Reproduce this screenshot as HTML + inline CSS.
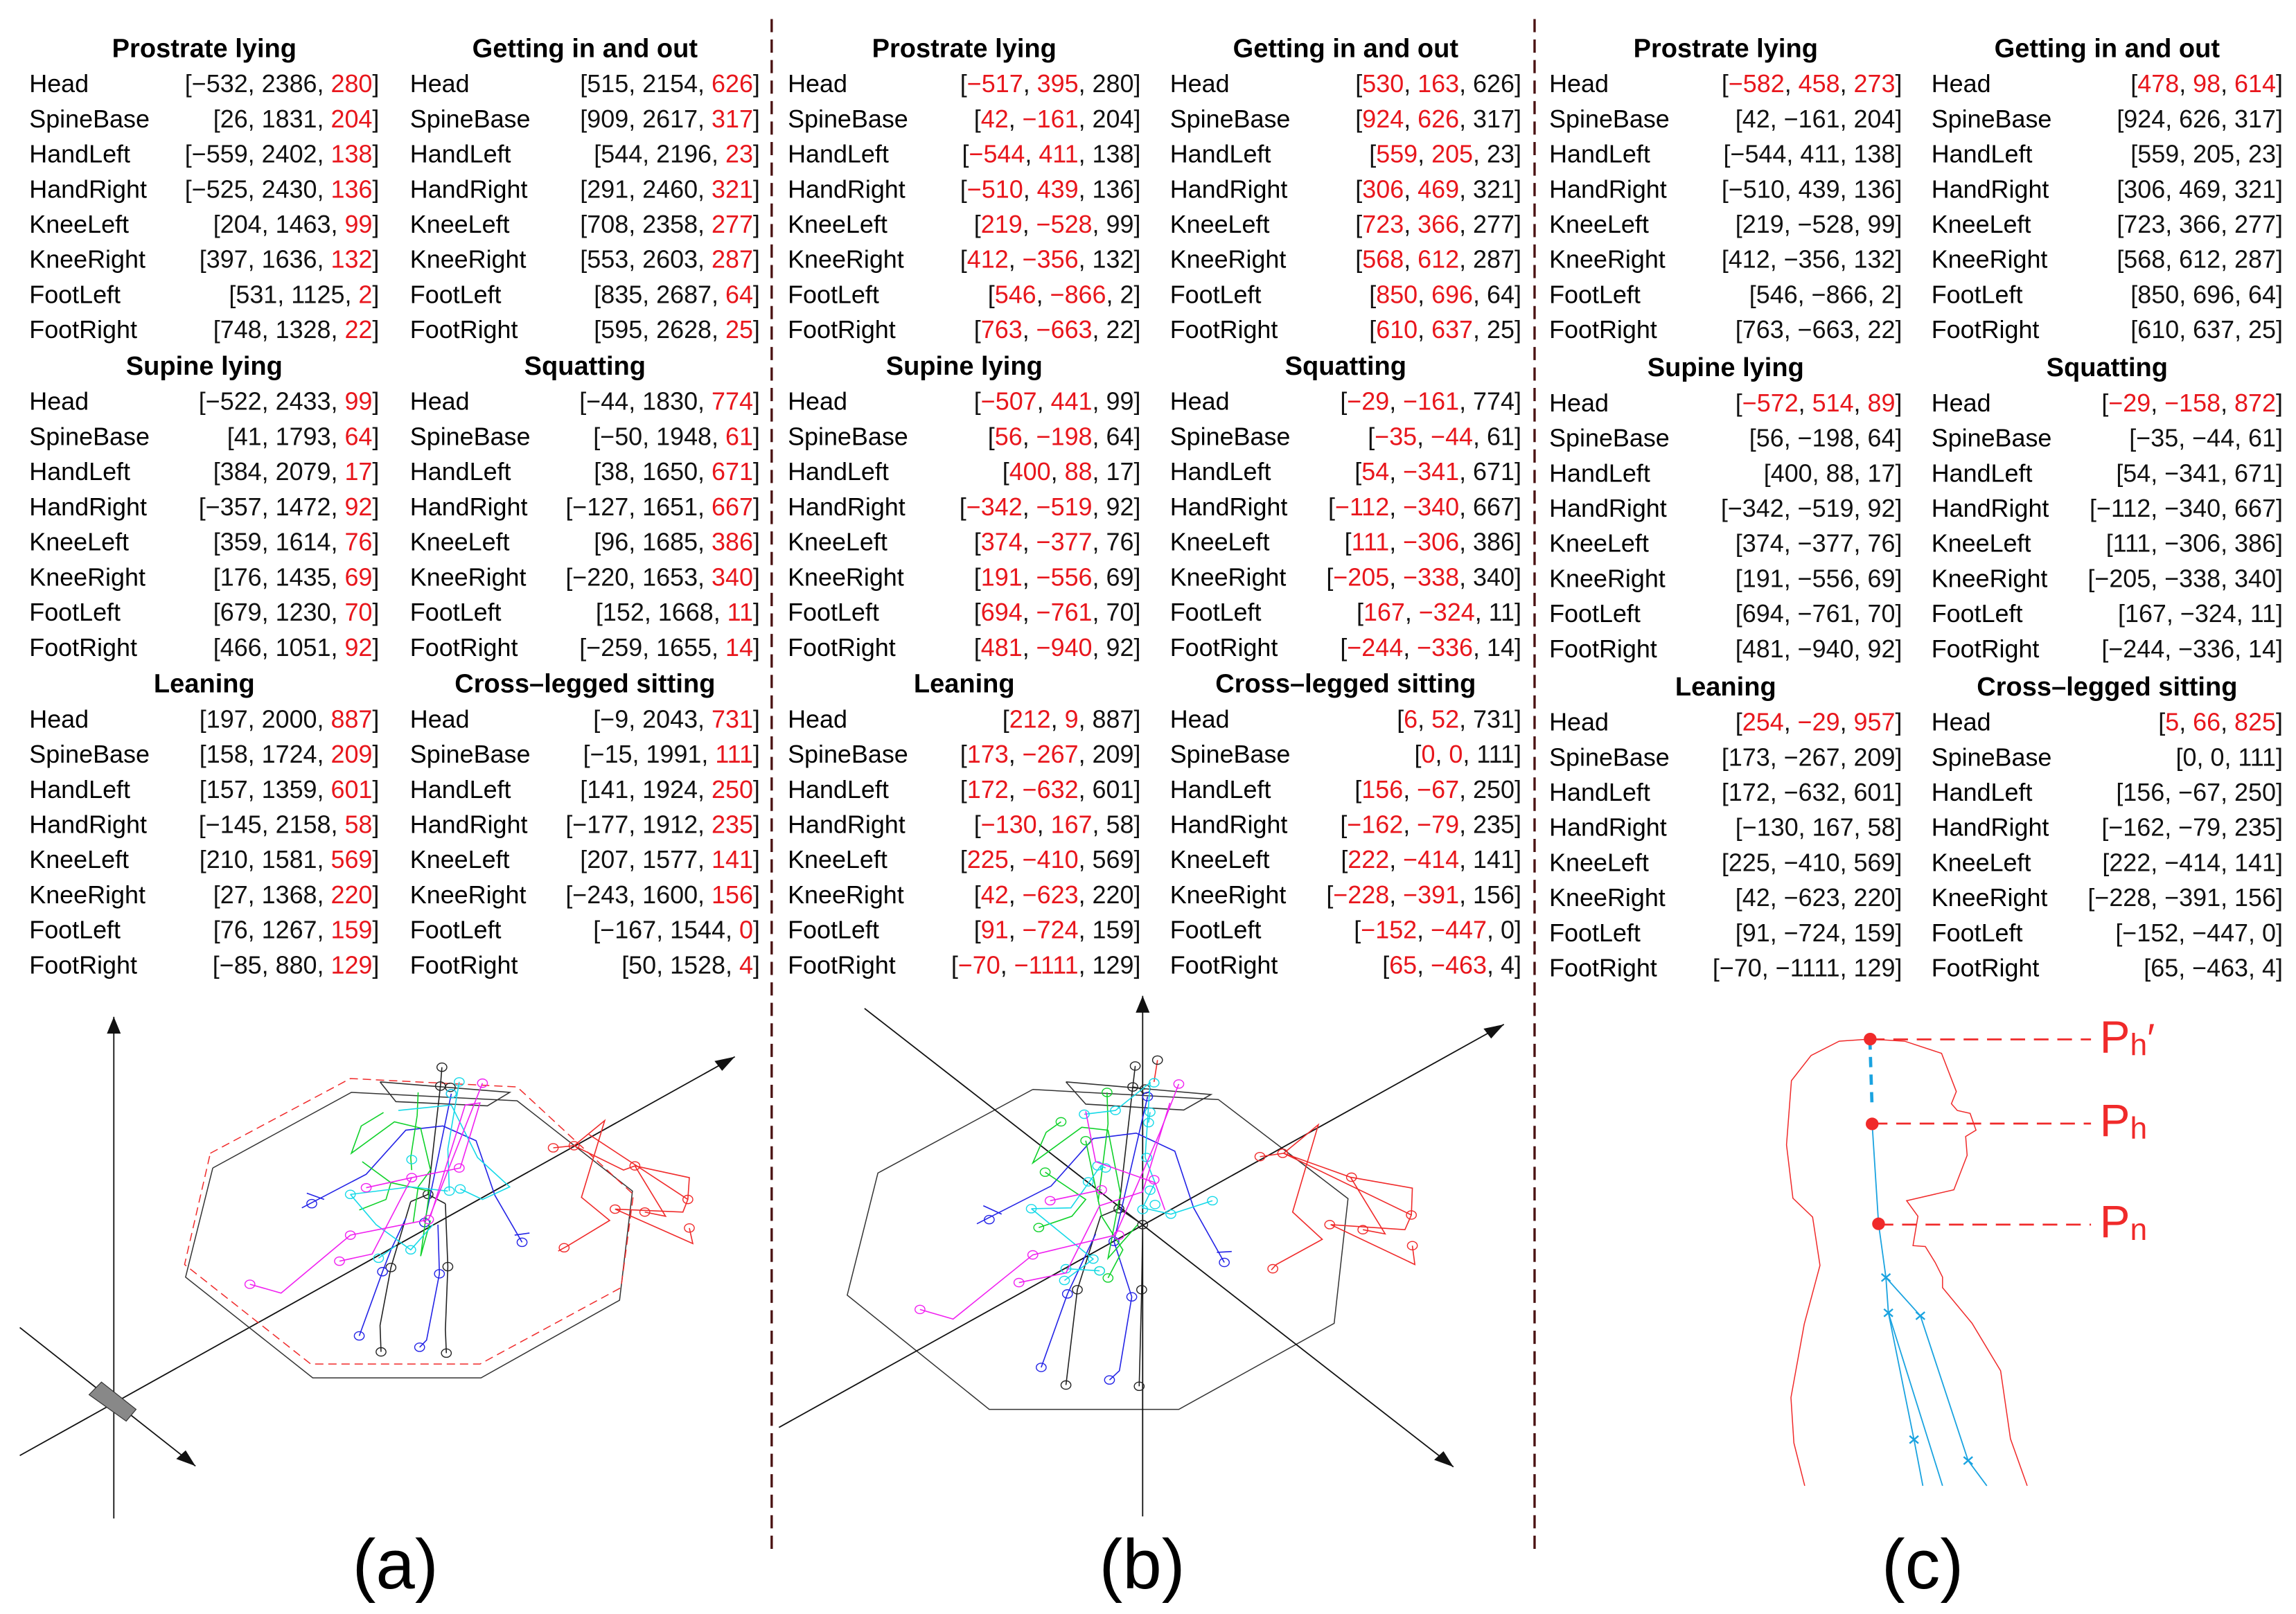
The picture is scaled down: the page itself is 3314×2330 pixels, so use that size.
<!DOCTYPE html>
<html><head><meta charset="utf-8"><style>
html,body{margin:0;padding:0;background:#fff;}
svg{display:block;}
text{font-family:"Liberation Sans",sans-serif;}
</style></head><body>
<svg id="fig" xmlns="http://www.w3.org/2000/svg" width="3314" height="2330" viewBox="0 0 1568 1102.5" preserveAspectRatio="none">
<rect width="1568" height="1102.5" fill="#fff"/>
<line x1="527" y1="13" x2="527" y2="1060" stroke="#4a1212" stroke-width="1.6" stroke-dasharray="9,5"/>
<line x1="1048" y1="13" x2="1048" y2="1060" stroke="#4a1212" stroke-width="1.6" stroke-dasharray="9,5"/>
<g id="tables"></g>
<g id="pa" transform="translate(0,653) scale(0.33795,0.28678)"></g>
<g id="pb" transform="translate(525.2,653) scale(0.33795,0.28678)"></g>
<line x1="1277" y1="710" x2="1428" y2="710" stroke="#f02a2a" stroke-width="1.3" stroke-dasharray="10,6"/>
<line x1="1279" y1="767.5" x2="1428" y2="767.5" stroke="#f02a2a" stroke-width="1.3" stroke-dasharray="10,6"/>
<line x1="1283" y1="836.5" x2="1428" y2="836.5" stroke="#f02a2a" stroke-width="1.3" stroke-dasharray="10,6"/>
<line x1="1277" y1="710" x2="1278.5" y2="757" stroke="#1aa3e0" stroke-width="2.2" stroke-dasharray="7,5"/>
<g id="pc" transform="translate(1040.9,653) scale(0.33613,0.28678)"></g>
<text x="270" y="1085" font-size="48" text-anchor="middle">(a)</text>
<text x="780" y="1085" font-size="48" text-anchor="middle">(b)</text>
<text x="1313" y="1085" font-size="48" text-anchor="middle">(c)</text>
</svg>
<script>
const NS="http://www.w3.org/2000/svg";
const joints=["Head","SpineBase","HandLeft","HandRight","KneeLeft","KneeRight","FootLeft","FootRight"];
const poses=["Prostrate lying","Getting in and out","Supine lying","Squatting","Leaning","Cross\u2013legged sitting"];
const aProstrate=[[-532,2386,280],[26,1831,204],[-559,2402,138],[-525,2430,136],[204,1463,99],[397,1636,132],[531,1125,2],[748,1328,22]];
const aGetting=[[515,2154,626],[909,2617,317],[544,2196,23],[291,2460,321],[708,2358,277],[553,2603,287],[835,2687,64],[595,2628,25]];
const aSupine=[[-522,2433,99],[41,1793,64],[384,2079,17],[-357,1472,92],[359,1614,76],[176,1435,69],[679,1230,70],[466,1051,92]];
const aSquat=[[-44,1830,774],[-50,1948,61],[38,1650,671],[-127,1651,667],[96,1685,386],[-220,1653,340],[152,1668,11],[-259,1655,14]];
const aLean=[[197,2000,887],[158,1724,209],[157,1359,601],[-145,2158,58],[210,1581,569],[27,1368,220],[76,1267,159],[-85,880,129]];
const aCross=[[-9,2043,731],[-15,1991,111],[141,1924,250],[-177,1912,235],[207,1577,141],[-243,1600,156],[-167,1544,0],[50,1528,4]];
const bProstrate=[[-517,395,280],[42,-161,204],[-544,411,138],[-510,439,136],[219,-528,99],[412,-356,132],[546,-866,2],[763,-663,22]];
const bGetting=[[530,163,626],[924,626,317],[559,205,23],[306,469,321],[723,366,277],[568,612,287],[850,696,64],[610,637,25]];
const bSupine=[[-507,441,99],[56,-198,64],[400,88,17],[-342,-519,92],[374,-377,76],[191,-556,69],[694,-761,70],[481,-940,92]];
const bSquat=[[-29,-161,774],[-35,-44,61],[54,-341,671],[-112,-340,667],[111,-306,386],[-205,-338,340],[167,-324,11],[-244,-336,14]];
const bLean=[[212,9,887],[173,-267,209],[172,-632,601],[-130,167,58],[225,-410,569],[42,-623,220],[91,-724,159],[-70,-1111,129]];
const bCross=[[6,52,731],[0,0,111],[156,-67,250],[-162,-79,235],[222,-414,141],[-228,-391,156],[-152,-447,0],[65,-463,4]];
const cHeads=[[-582,458,273],[478,98,614],[-572,514,89],[-29,-158,872],[254,-29,957],[5,66,825]];

const tg=document.getElementById('tables');
function fmt(n){return n<0?'\u2212'+(-n):String(n);}
function table(panel,pi,data,lx,rx,top,redFn){
  const g=document.createElementNS(NS,'g');
  
  
  const t=document.createElementNS(NS,'text');
  
  
  t.setAttribute('x',(lx+rx)/2);t.setAttribute('y',top+6);t.setAttribute('font-size','18');
  t.setAttribute('font-weight','bold');t.setAttribute('text-anchor','middle');t.textContent=poses[pi];
  g.appendChild(t);
  data.forEach((v,i)=>{
    const y=top+30+24*i;
    const l=document.createElementNS(NS,'text');
    
    
    l.setAttribute('x',lx);l.setAttribute('y',y);l.setAttribute('font-size','17');l.textContent=joints[i];
    g.appendChild(l);
    const r=document.createElementNS(NS,'text');
    
    
    r.setAttribute('x',rx);r.setAttribute('y',y);r.setAttribute('font-size','17');r.setAttribute('text-anchor','end');
    const parts=[['[',0]];
    v.forEach((n,k)=>{parts.push([fmt(n),redFn(i,k)?1:0]);if(k<2)parts.push([', ',0]);});
    parts.push([']',0]);
    parts.forEach(p=>{const s=document.createElementNS(NS,'tspan');s.setAttribute('fill',p[1]?'#e8161c':'#111');s.textContent=p[0];r.appendChild(s);});
    g.appendChild(r);
  });
  tg.appendChild(g);
}
const aSets=[aProstrate,aGetting,aSupine,aSquat,aLean,aCross];
const bSets=[bProstrate,bGetting,bSupine,bSquat,bLean,bCross];
const tops=[33,250,467];
for(let s=0;s<6;s++){
  const row=Math.floor(s/2),col=s%2,top=tops[row];
  table('a',s,aSets[s],col?280:20,col?519:259,top,(i,k)=>k===2);
  table('b',s,bSets[s],col?799:538,col?1039:779,top,(i,k)=>k<2);
  const cd=bSets[s].map((v,i)=>i===0?cHeads[s]:v);
  table('c',s,cd,col?1319:1058,col?1559:1299,top+row,(i,k)=>i===0);
}

function el(parent,tag,attrs,name){
  const e=document.createElementNS(NS,tag);
  for(const k in attrs)e.setAttribute(k,attrs[k]);
  e.setAttribute('vector-effect','non-scaling-stroke');
  
  
  parent.appendChild(e);return e;
}
function pl(parent,pts,color,name,w,dash){
  const a={points:pts.map(p=>p.join(',')).join(' '),fill:'none',stroke:color,'stroke-width':w||1.6};
  if(dash)a['stroke-dasharray']=dash;
  return el(parent,'polyline',a,name);
}
function arrow(parent,x1,y1,x2,y2,name){
  el(parent,'line',{x1,y1,x2,y2,stroke:'#111','stroke-width':1.8},name);
  const dx=x2-x1,dy=y2-y1,L=Math.hypot(dx,dy),ux=dx/L,uy=dy/L,h=40,w=14;
  const bx=x2-ux*h,by=y2-uy*h;
  el(parent,'polygon',{points:`${x2},${y2} ${bx-uy*w},${by+ux*w} ${bx+uy*w},${by-ux*w}`,fill:'#111'},name+'-head');
}
function joint(parent,pts,color){
  pts.forEach(p=>el(parent,'circle',{cx:p[0],cy:p[1],r:10,fill:'none',stroke:color,'stroke-width':1.4},'joint-marker'));
}
const BL='#222',BU='#2323e6',GR='#0fd12a',CY='#15d9e8',MG='#f020f0',RD='#f02a2a';

/* panel a */
const pa=document.getElementById('pa');
arrow(pa,230,1340,230,145,'vertical-axis-a');
arrow(pa,40,1190,1485,240,'depth-axis-a');
arrow(pa,40,885,395,1215,'lateral-axis-a');
pl(pa,[[430,505],[710,325],[1045,345],[1278,560],[1252,820],[972,1005],[632,1005],[375,765],[430,505]],'#333','bed-outline-a',1.5);
pl(pa,[[425,470],[708,292],[1045,312],[1280,568],[1255,790],[970,972],[628,972],[373,735],[425,470]],RD,'bed-outline-dashed-a',1.5,'12,7');
el(pa,'polygon',{points:'180,1045 205,1015 275,1080 255,1108',fill:'#888',stroke:'#333','stroke-width':1.2},'kinect-sensor');
pl(pa,[[768,300],[1030,325],[985,357],[800,347],[768,300]],'#333','bed-top-a');
pl(pa,[[893,265],[890,310],[865,568]],BL,'skeleton-black');pl(pa,[[830,585],[865,568],[900,590]],BL,'skeleton-black');
pl(pa,[[830,585],[790,742],[768,880],[770,943]],BL,'skeleton-black');pl(pa,[[900,590],[905,740],[900,890],[902,946]],BL,'skeleton-black');
joint(pa,[[893,265],[890,310],[910,313],[865,568],[790,742],[770,943],[905,740],[902,946]],BL);
pl(pa,[[610,600],[740,520],[820,415],[895,405],[962,440],[1000,570],[1055,682]],BU,'skeleton-blue');
pl(pa,[[620,565],[655,580]],BU,'skeleton-blue');pl(pa,[[1040,665],[1070,660]],BU,'skeleton-blue');
pl(pa,[[912,328],[858,635]],BU,'skeleton-blue');pl(pa,[[820,625],[790,700],[773,752],[726,905]],BU,'skeleton-blue');
pl(pa,[[885,640],[888,757],[862,915],[848,932]],BU,'skeleton-blue');
joint(pa,[[630,590],[1055,682],[912,328],[773,752],[726,905],[888,757],[848,932],[858,635]],BU);
pl(pa,[[775,373],[730,405],[710,470],[797,395],[850,410],[870,510],[845,550],[835,635]],GR,'skeleton-green');
pl(pa,[[845,325],[843,380],[830,480],[832,510]],GR,'skeleton-green');
pl(pa,[[732,490],[790,540],[780,580],[726,605]],GR,'skeleton-green');
pl(pa,[[790,540],[868,560],[850,715],[870,630]],GR,'skeleton-green');
pl(pa,[[805,368],[912,355],[965,480],[1030,550],[975,580],[930,555]],CY,'skeleton-cyan');
pl(pa,[[928,300],[905,460],[908,560]],CY,'skeleton-cyan');
pl(pa,[[708,568],[830,550],[905,560]],CY,'skeleton-cyan');
pl(pa,[[708,568],[760,640],[830,700],[875,640]],CY,'skeleton-cyan');pl(pa,[[765,720],[800,690]],CY,'skeleton-cyan');
joint(pa,[[928,300],[912,328],[832,485],[708,568],[908,560],[930,555],[830,700],[765,720]],CY);
pl(pa,[[505,782],[568,803],[708,665],[866,628],[975,303]],MG,'skeleton-magenta');
pl(pa,[[686,727],[752,710],[832,528],[930,505],[970,350],[940,355]],MG,'skeleton-magenta');
pl(pa,[[740,552],[832,528]],MG,'skeleton-magenta');pl(pa,[[940,355],[870,620]],MG,'skeleton-magenta');
joint(pa,[[505,782],[708,665],[686,727],[740,552],[832,528],[928,505],[975,303],[866,628]],MG);
pl(pa,[[1118,457],[1160,452],[1222,392],[1175,575],[1232,630],[1148,690],[1128,703]],RD,'skeleton-red');
pl(pa,[[1160,452],[1260,510],[1283,500],[1393,528],[1390,580],[1380,610],[1243,603],[1400,685],[1393,648]],RD,'skeleton-red');
pl(pa,[[1190,425],[1390,580]],RD,'skeleton-red');pl(pa,[[1283,500],[1345,620],[1303,610]],RD,'skeleton-red');
joint(pa,[[1118,457],[1160,452],[1140,695],[1283,500],[1390,580],[1243,603],[1303,610],[1393,648]],RD);

/* panel b */
const pb=document.getElementById('pb');
pl(pb,[[533,318],[908,342],[1170,578],[1142,875],[828,1080],[445,1080],[158,808],[220,517],[533,318]],'#333','bed-outline-b',1.5);
arrow(pb,755,1335,755,95,'vertical-axis-b');
arrow(pb,20,1123,1485,163,'depth-axis-b');
arrow(pb,193,125,1383,1217,'lateral-axis-b');
pl(pb,[[600,300],[893,330],[838,367],[640,353],[600,300]],'#333','bed-top-b');
pl(pb,[[740,262],[735,312],[707,602],[670,620],[623,795],[600,1022]],BL,'skeleton-black');
pl(pb,[[707,602],[755,640],[753,795],[748,1025]],BL,'skeleton-black');pl(pb,[[735,312],[760,317]],BL,'skeleton-black');
joint(pb,[[740,262],[735,312],[760,317],[707,602],[755,640],[623,795],[600,1022],[753,795],[748,1025]],BL);
pl(pb,[[785,248],[778,300]],RD,'skeleton-red');joint(pb,[[785,248]],BL);
pl(pb,[[420,638],[570,548],[655,435],[742,422],[820,465],[858,600],[920,730]],BU,'skeleton-blue');
pl(pb,[[433,595],[470,615]],BU,'skeleton-blue');pl(pb,[[905,706],[935,704]],BU,'skeleton-blue');
pl(pb,[[765,335],[697,680]],BU,'skeleton-blue');pl(pb,[[660,662],[603,805],[550,980]],BU,'skeleton-blue');
pl(pb,[[697,680],[733,812],[708,988],[688,1010]],BU,'skeleton-blue');
joint(pb,[[445,628],[920,730],[765,335],[697,680],[603,805],[550,980],[733,812],[688,1010]],BU);
pl(pb,[[590,395],[560,420],[533,493],[632,408],[685,415],[710,565],[685,720],[745,640]],GR,'skeleton-green');
pl(pb,[[683,325],[685,400],[665,585]],GR,'skeleton-green');
pl(pb,[[558,515],[640,580],[612,620],[545,647]],GR,'skeleton-green');
pl(pb,[[640,440],[672,620],[715,700],[685,767]],GR,'skeleton-green');
joint(pb,[[590,395],[683,325],[640,440],[558,515],[545,647],[685,767],[668,750]],GR);
pl(pb,[[637,377],[700,368],[770,302],[760,480],[780,540],[755,600],[812,615],[896,583]],CY,'skeleton-cyan');
pl(pb,[[530,602],[610,600],[670,500],[680,505]],CY,'skeleton-cyan');
pl(pb,[[530,602],[655,722],[597,773]],CY,'skeleton-cyan');pl(pb,[[600,745],[668,750]],CY,'skeleton-cyan');
pl(pb,[[770,372],[767,397]],CY,'skeleton-cyan');
joint(pb,[[637,377],[700,368],[778,302],[770,372],[767,397],[763,480],[770,558],[780,592],[755,604],[812,615],[896,583],[530,602],[664,500],[680,505],[655,722],[600,745],[597,773],[668,750],[645,538]],CY);
pl(pb,[[305,842],[372,865],[533,712],[700,665],[790,420],[828,305]],MG,'skeleton-magenta');
pl(pb,[[505,778],[600,755],[668,595],[755,562],[810,350]],MG,'skeleton-magenta');
pl(pb,[[568,583],[672,557]],MG,'skeleton-magenta');
pl(pb,[[640,370],[660,490],[780,540],[800,605]],MG,'skeleton-magenta');
joint(pb,[[305,842],[533,712],[505,778],[568,583],[672,557],[828,305],[778,533],[707,665]],MG);
pl(pb,[[992,478],[1040,470],[1110,402],[1058,610],[1118,675],[1025,735],[1015,748]],RD,'skeleton-red');
pl(pb,[[1040,470],[1175,527],[1300,553],[1298,617],[1285,652],[1135,640],[1305,735],[1300,690]],RD,'skeleton-red');
pl(pb,[[1040,470],[1298,617]],RD,'skeleton-red');pl(pb,[[1175,527],[1245,662],[1200,652]],RD,'skeleton-red');
joint(pb,[[992,478],[1038,470],[1018,745],[1177,527],[1298,617],[1133,640],[1200,652],[1300,690]],RD);

/* panel c */
const pc=document.getElementById('pc');
pl(pc,[[570,1262],[548,1160],[542,1052],[569,877],[601,737],[586,622],[546,577],[533,450],[543,297],[583,237],[640,203],[703,198],[773,203],[848,232],[878,323],[868,352],[880,368],[906,375],[918,415],[897,430],[900,475],[873,557],[777,583],[800,620],[790,690],[815,692],[835,730],[850,765],[850,790],[910,875],[968,988],[988,1150],[1022,1262]],RD,'head-outline',1.5);
pl(pc,[[707,400],[720,638],[735,766],[740,850],[792,1152],[810,1262]],'#1aa3e0','spine-line',1.8);
pl(pc,[[735,766],[805,857],[902,1202],[940,1262]],'#1aa3e0','shoulder-line',1.8);
pl(pc,[[740,850],[850,1262]],'#1aa3e0','arm-line',1.8);
[[735,766],[740,850],[805,857],[792,1152],[902,1202]].forEach(p=>{
  el(pc,'path',{d:`M${p[0]-9},${p[1]-9}L${p[0]+9},${p[1]+9}M${p[0]-9},${p[1]+9}L${p[0]+9},${p[1]-9}`,stroke:'#1aa3e0','stroke-width':2.4},'joint-cross');
});
[[703,198],[707,400],[720,638]].forEach(p=>el(pc,'ellipse',{cx:p[0],cy:p[1],rx:13,ry:15,fill:RD},'key-point'));

const f=document.getElementById('fig');
[['P','h','\u2032',719],['P','h','',776],['P','n','',845]].forEach((L,i)=>{
  const t=document.createElementNS(NS,'text');
  
  
  t.setAttribute('x',1434);t.setAttribute('y',L[3]);t.setAttribute('font-size','31');t.setAttribute('fill',RD);
  const a=document.createElementNS(NS,'tspan');a.textContent=L[0];t.appendChild(a);
  const b=document.createElementNS(NS,'tspan');b.setAttribute('font-size','21');b.setAttribute('dy','2');b.textContent=L[1];t.appendChild(b);
  if(L[2]){const c=document.createElementNS(NS,'tspan');c.setAttribute('dy','-2');c.setAttribute('font-size','28');c.textContent=L[2];t.appendChild(c);}
  f.appendChild(t);
});
</script>
</body></html>
